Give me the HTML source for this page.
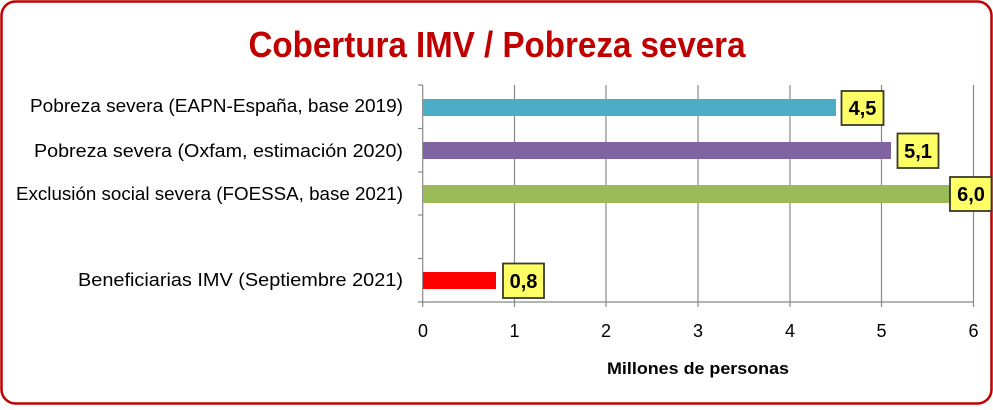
<!DOCTYPE html>
<html><head><style>html,body{margin:0;padding:0;background:#fff}</style></head><body>
<svg width="993" height="405" xmlns="http://www.w3.org/2000/svg" font-family="Liberation Sans, sans-serif">
<rect x="1.5" y="1.5" width="990" height="402" rx="14" fill="#fff" stroke="#c00000" stroke-width="2.5"/>
<text x="497" y="57" text-anchor="middle" font-size="36" font-weight="bold" fill="#c00000" textLength="497" lengthAdjust="spacingAndGlyphs">Cobertura IMV / Pobreza severa</text>
<g stroke="#888" stroke-width="1.2">
<line x1="514.5" y1="85" x2="514.5" y2="302"/><line x1="606" y1="85" x2="606" y2="302"/>
<line x1="698" y1="85" x2="698" y2="302"/><line x1="790" y1="85" x2="790" y2="302"/>
<line x1="881.5" y1="85" x2="881.5" y2="302"/><line x1="973.5" y1="85" x2="973.5" y2="302"/>
<line x1="422.7" y1="85" x2="422.7" y2="307"/><line x1="418" y1="302" x2="974" y2="302"/>
<line x1="418" y1="85" x2="423" y2="85"/><line x1="418" y1="128.5" x2="423" y2="128.5"/>
<line x1="418" y1="172" x2="423" y2="172"/><line x1="418" y1="215" x2="423" y2="215"/>
<line x1="418" y1="258.5" x2="423" y2="258.5"/>
<line x1="514.5" y1="302" x2="514.5" y2="307"/><line x1="606" y1="302" x2="606" y2="307"/><line x1="698" y1="302" x2="698" y2="307"/><line x1="790" y1="302" x2="790" y2="307"/><line x1="881.5" y1="302" x2="881.5" y2="307"/><line x1="973.5" y1="302" x2="973.5" y2="307"/>
</g>
<rect x="423" y="99" width="413" height="17" fill="#4bacc6"/>
<rect x="423" y="142" width="468" height="17" fill="#8064a2"/>
<rect x="423" y="185" width="550" height="18" fill="#9bbb59"/>
<rect x="423" y="272" width="73" height="17" fill="#ff0000"/>
<g fill="#ffff66" stroke="#3a3a2a" stroke-width="1.8">
<rect x="841.5" y="91" width="42" height="34"/>
<rect x="897.5" y="133.5" width="41" height="34.5"/>
<rect x="950" y="177" width="41.5" height="34"/>
<rect x="503" y="263.5" width="41" height="34.5"/>
</g>
<g font-size="20" font-weight="bold" fill="#000" text-anchor="middle">
<text x="862.5" y="115">4,5</text><text x="918" y="158">5,1</text>
<text x="971" y="201">6,0</text><text x="523.5" y="288">0,8</text>
</g>
<g font-size="18" fill="#000" text-anchor="end">
<text x="403" y="112" textLength="373" lengthAdjust="spacingAndGlyphs">Pobreza severa (EAPN-España, base 2019)</text>
<text x="403" y="157" textLength="369" lengthAdjust="spacingAndGlyphs">Pobreza severa (Oxfam, estimación 2020)</text>
<text x="403" y="200" textLength="387" lengthAdjust="spacingAndGlyphs">Exclusión social severa (FOESSA, base 2021)</text>
<text x="403" y="286" textLength="325" lengthAdjust="spacingAndGlyphs">Beneficiarias IMV (Septiembre 2021)</text>
</g>
<g font-size="18" fill="#000" text-anchor="middle">
<text x="423" y="337">0</text><text x="514.5" y="337">1</text><text x="606" y="337">2</text><text x="698" y="337">3</text><text x="790" y="337">4</text><text x="881.5" y="337">5</text><text x="973.5" y="337">6</text>
</g>
<text x="698" y="374" text-anchor="middle" font-size="17" font-weight="bold" textLength="182" lengthAdjust="spacingAndGlyphs">Millones de personas</text>
</svg>
</body></html>
